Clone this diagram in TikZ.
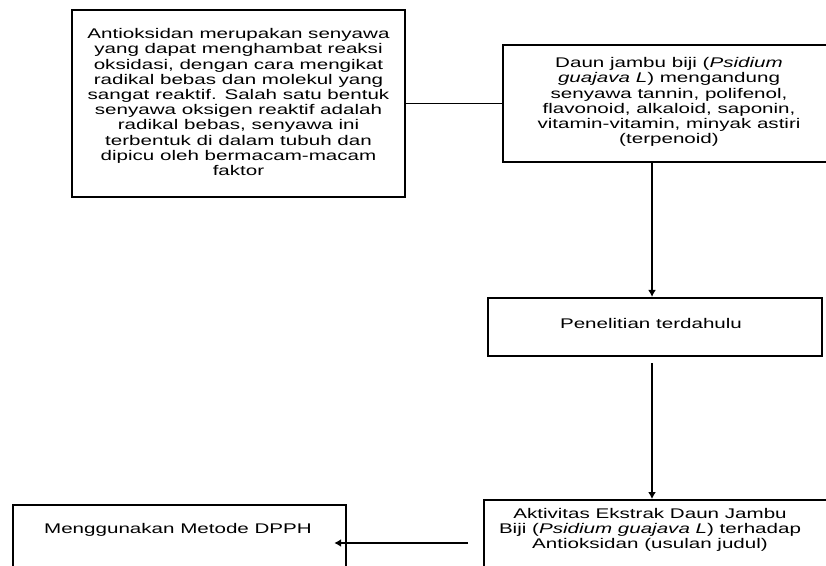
\documentclass[tikz,border=0pt]{standalone}
\usepackage{fontspec}
\setmainfont{Liberation Sans}[FakeStretch=1.47]
\usetikzlibrary{arrows.meta}
\begin{document}
\begin{tikzpicture}[x=1pt,y=-1pt,
  box/.style={draw=black,line width=2.2pt,inner sep=0pt},
  txt/.style={align=center,inner sep=0pt,font=\fontsize{14pt}{15.2pt}\selectfont},
  arr/.style={line width=1.8pt,-{Latex[length=7pt,width=8pt]}}]
\useasboundingbox (0,0) rectangle (826,565);
\clip (0,0) rectangle (826,565);
\fill[white] (0,0) rectangle (826,565);
% boxes
\node[box,minimum width=333pt,minimum height=187pt] (A) at (238.5,103.5) {};
\node[txt] (At) at (238.5,102) {Antioksidan merupakan senyawa\\yang dapat menghambat reaksi\\oksidasi, dengan cara mengikat\\radikal bebas dan molekul yang\\sangat reaktif. Salah satu bentuk\\senyawa oksigen reaktif adalah\\radikal bebas, senyawa ini\\terbentuk di dalam tubuh dan\\dipicu oleh bermacam-macam\\faktor};
\node[box,minimum width=332pt,minimum height=117pt] (B) at (669,103.5) {};
\node[txt] (Bt) at (669,102) {Daun jambu biji (\textit{Psidium}\\\textit{guajava L}) mengandung\\senyawa tannin, polifenol,\\flavonoid, alkaloid, saponin,\\vitamin-vitamin, minyak astiri\\(terpenoid)};
\node[box,minimum width=334pt,minimum height=58pt] (C) at (655,327) {};
\node[txt] (Ct) at (651,323) {Penelitian terdahulu};
\node[box,anchor=north west,minimum width=350pt,minimum height=80pt] (D) at (483,499) {};
\node[txt] (Dt) at (650,530) {Aktivitas Ekstrak Daun Jambu\\Biji (\textit{Psidium guajava L}) terhadap\\Antioksidan (usulan judul)};
\node[box,anchor=north west,minimum width=333pt,minimum height=80pt] (E) at (12,504) {};
\node[txt] (Et) at (178,530) {Menggunakan Metode DPPH};
% connectors
\coordinate (bx) at (652,0);
\coordinate (ay) at (0,543);
\coordinate (c1) at ([yshift=-6pt]C.south);
\coordinate (d1) at ([xshift=-15pt]D.west);
\coordinate (e1) at ([xshift=-13pt]E.east);
\draw[line width=1.8pt] (A.east) -- (B.west);
\draw[arr] (B.south -| bx) -- (C.north -| bx);
\draw[arr] (c1 -| bx) -- (D.north -| bx);
\draw[arr] (d1 |- ay) -- (e1 |- ay);
\end{tikzpicture}
\end{document}
